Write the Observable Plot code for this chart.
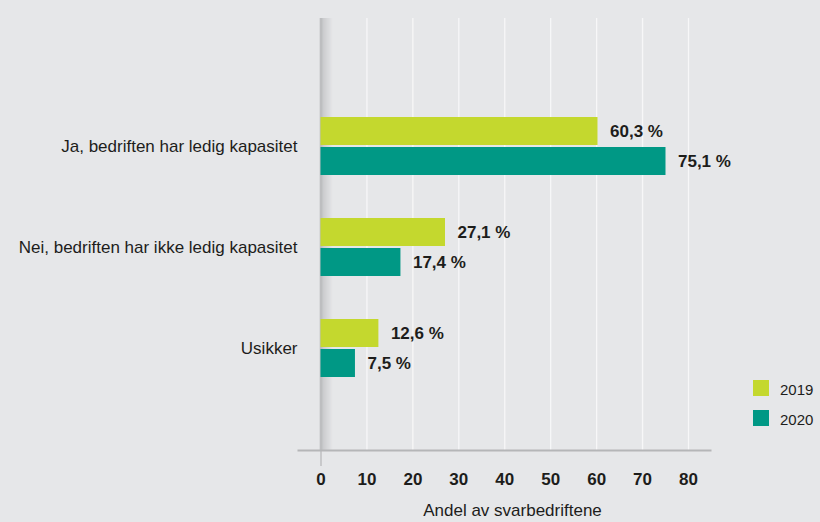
<!DOCTYPE html>
<html><head><meta charset="utf-8">
<script src="https://cdn.jsdelivr.net/npm/d3@7"></script>
<script src="https://cdn.jsdelivr.net/npm/@observablehq/plot@0.6"></script>
<style>
html,body{margin:0;padding:0;background:#e6e7e9;}
#wrap{position:relative;width:820px;height:522px;font-family:"Liberation Sans",Arial,Helvetica,sans-serif;}
#legend{position:absolute;left:753px;top:380px;}
.item{position:relative;height:16px;margin-bottom:14px;}
.sw{position:absolute;left:0;top:0;width:16px;height:16px;}
.lt{position:absolute;left:27px;top:1px;font-size:15px;line-height:17px;color:#1d1d1b;}
</style></head><body><div id="wrap"><div id="legend"></div></div>
<script>
const categories = ["Ja, bedriften har ledig kapasitet", "Nei, bedriften har ikke ledig kapasitet", "Usikker"];
const years = ["2019", "2020"];
const values2019 = [60.3, 27.1, 12.6];
const values2020 = [75.1, 17.4, 7.5];
const xTicks = [0, 10, 20, 30, 40, 50, 60, 70, 80];
const colors = ["#c4d82e", "#009885"];
const axisTitle = "Andel av svarbedriftene";

const ink = "#1d1d1b";
const fmt = v => v.toFixed(1).replace(".", ",") + " %";
const rows2019 = categories.map((c, i) => ({category: c, value: values2019[i]}));
const rows2020 = categories.map((c, i) => ({category: c, value: values2020[i]}));

// shaded zero line (gradient imitation)
const shadeInterp = d3.interpolateRgb("#c8c9cb", "#e5e6e8");
const shadeRules = d3.range(11).map(k =>
  Plot.ruleX([0], {dx: 1.5 + k, stroke: shadeInterp(k / 10), strokeWidth: 1.2}));

const chart = Plot.plot({
  width: 820,
  height: 522,
  marginLeft: 298,
  marginRight: 110,
  marginTop: 18,
  marginBottom: 72,
  x: {domain: [0, 80], range: [320.5, 688], label: null},
  y: {domain: categories, range: [72.5, 420.5], padding: 0.4286, label: null},
  style: {background: "transparent", fontFamily: "'Liberation Sans', Arial, Helvetica, sans-serif", color: ink},
  marks: [
    Plot.ruleX(xTicks.slice(1), {stroke: "#f7f7f8", strokeWidth: 1.3}),
    ...shadeRules,
    Plot.ruleX([0], {stroke: "#bdbec0", strokeWidth: 2.6, dx: 0}),
    Plot.frame({anchor: "bottom", stroke: "#b5b6b8", strokeWidth: 2}),
    Plot.axisX({ticks: [0], tickSize: 16, tickFormat: () => "", stroke: "#b5b6b8", strokeWidth: 1.2, label: null}),
    Plot.axisX({ticks: xTicks, tickSize: 0, tickPadding: 22, fontSize: 17, fontWeight: "bold", fill: ink, label: null}),
    Plot.axisY({tickSize: 0, tickPadding: 1, fontSize: 17, fill: ink, label: null}),
    Plot.barX(rows2019, {x: "value", y: "category", fill: colors[0], insetBottom: 30}),
    Plot.barX(rows2020, {x: "value", y: "category", fill: colors[1], insetTop: 30}),
    Plot.text(rows2019, {x: "value", y: "category", text: d => fmt(d.value), dx: 12, dy: -15, textAnchor: "start", fontSize: 17, fontWeight: "bold", fill: ink}),
    Plot.text(rows2020, {x: "value", y: "category", text: d => fmt(d.value), dx: 12, dy: 15, textAnchor: "start", fontSize: 17, fontWeight: "bold", fill: ink}),
    Plot.text([axisTitle], {frameAnchor: "bottom", dy: 65, dx: 8, fontSize: 17, fill: ink})
  ]
});
document.getElementById("wrap").prepend(chart);

const legend = document.getElementById("legend");
years.forEach((y, i) => {
  const item = document.createElement("div");
  item.className = "item";
  item.innerHTML = `<div class="sw" style="background:${colors[i]}"></div><div class="lt">${y}</div>`;
  legend.appendChild(item);
});
</script>
</body></html>
